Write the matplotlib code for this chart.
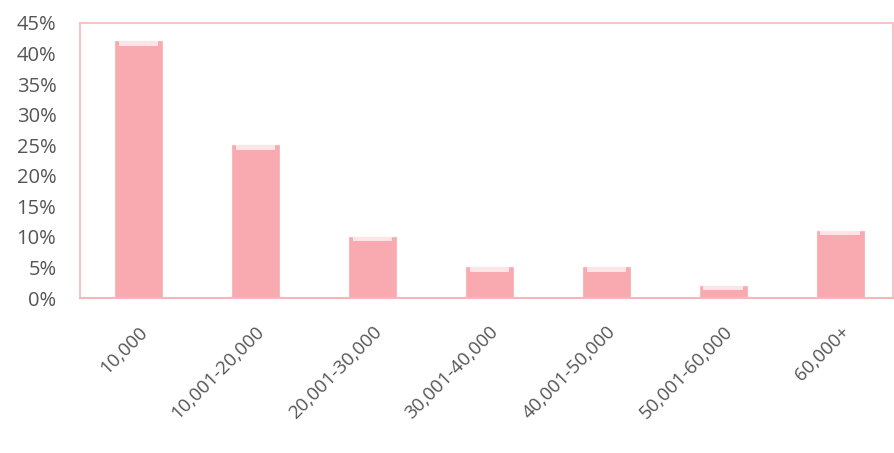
import matplotlib
matplotlib.use("Agg")
import matplotlib.pyplot as plt
from matplotlib.ticker import FuncFormatter, MultipleLocator

categories = ["10,000", "10,001-20,000", "20,001-30,000", "30,001-40,000",
              "40,001-50,000", "50,001-60,000", "60,000+"]
values = [42, 25, 10, 5, 5, 2, 11]

plt.rcParams['font.family'] = ['Open Sans', 'DejaVu Sans']

fig = plt.figure(figsize=(8.94, 4.53), dpi=100)
ax = fig.add_axes([80/894, 1 - 298/453, (893-80)/894, (298-23)/453])

x = range(len(categories))
ax.bar(x, values, width=0.4, color='#f8aab0', edgecolor='#f7b9bd', linewidth=0.8, zorder=2)
# light cap on each bar
ax.bar(x, [0.7]*len(values), bottom=[v - 0.7 for v in values], width=0.34,
       color='#fde4e6', linewidth=0, zorder=3)

ax.set_xlim(-0.5, 6.45)
ax.set_ylim(0, 45)
ax.yaxis.set_major_locator(MultipleLocator(5))
ax.yaxis.set_major_formatter(FuncFormatter(lambda v, p: f"{v:.0f}%"))
ax.set_xticks(list(x))
ax.set_xticklabels(categories, rotation=45, ha='right', rotation_mode='anchor')

for s in ax.spines.values():
    s.set_color('#f6c4c8')
    s.set_linewidth(1.5)
ax.spines['bottom'].set_color('#f7b6bb')
ax.tick_params(axis='both', length=0, colors='#555555')
ax.tick_params(axis='y', pad=17, labelsize=14.5)
ax.tick_params(axis='x', pad=18, labelsize=13.5)

fig.savefig("out.png", dpi=100)
